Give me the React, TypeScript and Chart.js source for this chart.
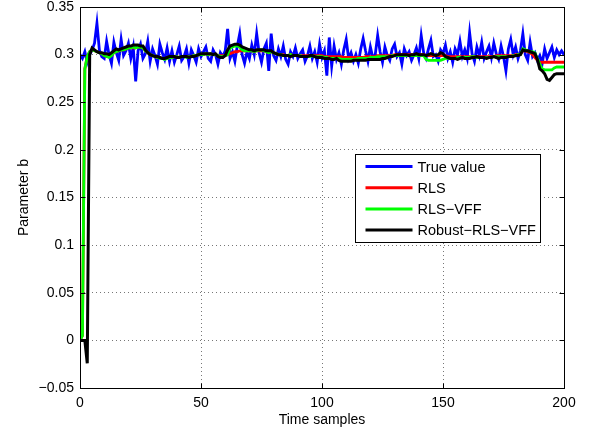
import React, { useEffect, useRef } from "react";
import { Chart, registerables } from "chart.js";

Chart.register(...registerables);

const SERIES_LABELS = ["True value", "RLS", "RLS\u2212VFF", "Robust\u2212RLS\u2212VFF"];
const SERIES_COLORS = ["#0000ff", "#ff0000", "#00ff00", "#000000"];
const X_TICKS = [0, 50, 100, 150, 200];
const Y_TICKS = [-0.05, 0, 0.05, 0.1, 0.15, 0.2, 0.25, 0.3, 0.35];

const trueValue = [
  0.300, 0.296, 0.303, 0.292, 0.300, 0.305, 0.312, 0.333, 0.305, 0.298,
  0.296, 0.314, 0.300, 0.291, 0.313, 0.302, 0.294, 0.316, 0.299, 0.304,
  0.312, 0.296, 0.308, 0.272, 0.304, 0.311, 0.296, 0.301, 0.314, 0.293,
  0.306, 0.299, 0.290, 0.311, 0.302, 0.295, 0.307, 0.293, 0.304, 0.292,
  0.300, 0.309, 0.294, 0.298, 0.306, 0.291, 0.305, 0.299, 0.292, 0.306,
  0.298, 0.303, 0.308, 0.296, 0.293, 0.305, 0.300, 0.290, 0.302, 0.298,
  0.304, 0.327, 0.296, 0.303, 0.293, 0.309, 0.322, 0.300, 0.291, 0.303,
  0.296, 0.310, 0.300, 0.322, 0.302, 0.292, 0.306, 0.312, 0.283, 0.322,
  0.299, 0.294, 0.306, 0.298, 0.309, 0.295, 0.290, 0.303, 0.298, 0.307,
  0.296, 0.301, 0.305, 0.293, 0.299, 0.309, 0.296, 0.303, 0.292, 0.311,
  0.297, 0.304, 0.278, 0.318, 0.288, 0.309, 0.295, 0.302, 0.290, 0.305,
  0.316, 0.296, 0.302, 0.293, 0.300, 0.291, 0.306, 0.317, 0.304, 0.293,
  0.308, 0.297, 0.300, 0.320, 0.303, 0.292, 0.308, 0.299, 0.294, 0.306,
  0.311, 0.298, 0.302, 0.290, 0.306, 0.299, 0.303, 0.294, 0.300, 0.307,
  0.296, 0.320, 0.302, 0.296, 0.306, 0.315, 0.298, 0.300, 0.293, 0.305,
  0.301, 0.310, 0.296, 0.303, 0.292, 0.306, 0.300, 0.314, 0.298, 0.305,
  0.296, 0.323, 0.301, 0.293, 0.308, 0.299, 0.313, 0.296, 0.303, 0.309,
  0.297, 0.312, 0.301, 0.295, 0.309, 0.298, 0.283, 0.306, 0.316, 0.300,
  0.308, 0.296, 0.304, 0.322, 0.300, 0.294, 0.313, 0.298, 0.302, 0.294,
  0.299, 0.291, 0.306, 0.296, 0.302, 0.308, 0.297, 0.305, 0.300, 0.304,
  0.300,
];

const rls = [
  0.000, 0.005, 0.285, 0.298, 0.303, 0.305, 0.304, 0.303, 0.302, 0.301,
  0.299, 0.298, 0.298, 0.299, 0.302, 0.303, 0.304, 0.305, 0.305, 0.306,
  0.307, 0.307, 0.307, 0.307, 0.308, 0.308, 0.307, 0.304, 0.302, 0.300,
  0.299, 0.298, 0.297, 0.297, 0.296, 0.296, 0.296, 0.297, 0.297, 0.298,
  0.298, 0.297, 0.298, 0.298, 0.298, 0.298, 0.298, 0.299, 0.299, 0.300,
  0.300, 0.300, 0.301, 0.300, 0.301, 0.300, 0.300, 0.299, 0.299, 0.299,
  0.299, 0.300, 0.301, 0.302, 0.303, 0.303, 0.304, 0.304, 0.304, 0.304,
  0.304, 0.304, 0.303, 0.304, 0.304, 0.304, 0.304, 0.303, 0.302, 0.303,
  0.302, 0.301, 0.300, 0.300, 0.300, 0.299, 0.299, 0.300, 0.299, 0.299,
  0.299, 0.299, 0.299, 0.299, 0.299, 0.299, 0.299, 0.299, 0.299, 0.299,
  0.299, 0.298, 0.298, 0.298, 0.298, 0.298, 0.298, 0.298, 0.298, 0.297,
  0.297, 0.297, 0.297, 0.297, 0.297, 0.297, 0.297, 0.297, 0.298, 0.298,
  0.298, 0.298, 0.298, 0.299, 0.299, 0.299, 0.299, 0.299, 0.299, 0.299,
  0.300, 0.300, 0.300, 0.300, 0.300, 0.300, 0.300, 0.300, 0.300, 0.300,
  0.300, 0.300, 0.300, 0.299, 0.299, 0.299, 0.299, 0.299, 0.299, 0.299,
  0.299, 0.299, 0.298, 0.298, 0.298, 0.298, 0.298, 0.298, 0.298, 0.298,
  0.298, 0.298, 0.298, 0.298, 0.298, 0.298, 0.298, 0.298, 0.298, 0.298,
  0.298, 0.298, 0.299, 0.299, 0.299, 0.299, 0.299, 0.299, 0.299, 0.299,
  0.300, 0.300, 0.300, 0.304, 0.304, 0.303, 0.302, 0.300, 0.297, 0.294,
  0.292, 0.292, 0.292, 0.292, 0.292, 0.292, 0.292, 0.292, 0.292, 0.292,
  0.292,
];

const rlsVff = [
  0.000, 0.005, 0.285, 0.298, 0.303, 0.305, 0.304, 0.303, 0.302, 0.301,
  0.299, 0.298, 0.297, 0.299, 0.302, 0.303, 0.304, 0.305, 0.305, 0.306,
  0.307, 0.307, 0.308, 0.307, 0.308, 0.308, 0.307, 0.304, 0.302, 0.300,
  0.299, 0.298, 0.297, 0.296, 0.296, 0.295, 0.296, 0.297, 0.297, 0.298,
  0.298, 0.297, 0.298, 0.298, 0.297, 0.298, 0.298, 0.299, 0.299, 0.300,
  0.300, 0.300, 0.301, 0.300, 0.301, 0.300, 0.300, 0.299, 0.298, 0.298,
  0.299, 0.300, 0.307, 0.308, 0.309, 0.309, 0.308, 0.305, 0.304, 0.304,
  0.304, 0.304, 0.303, 0.304, 0.305, 0.305, 0.304, 0.303, 0.302, 0.303,
  0.302, 0.301, 0.300, 0.300, 0.299, 0.299, 0.299, 0.300, 0.299, 0.299,
  0.299, 0.299, 0.298, 0.298, 0.298, 0.298, 0.299, 0.298, 0.298, 0.298,
  0.298, 0.297, 0.297, 0.296, 0.296, 0.296, 0.296, 0.296, 0.295, 0.295,
  0.295, 0.295, 0.295, 0.295, 0.295, 0.296, 0.296, 0.296, 0.296, 0.296,
  0.297, 0.297, 0.297, 0.298, 0.298, 0.298, 0.298, 0.298, 0.298, 0.299,
  0.299, 0.299, 0.299, 0.299, 0.299, 0.299, 0.299, 0.299, 0.299, 0.299,
  0.299, 0.299, 0.299, 0.295, 0.294, 0.294, 0.294, 0.294, 0.294, 0.294,
  0.295, 0.296, 0.296, 0.296, 0.296, 0.296, 0.297, 0.297, 0.297, 0.297,
  0.297, 0.297, 0.298, 0.298, 0.297, 0.297, 0.297, 0.297, 0.297, 0.297,
  0.297, 0.298, 0.298, 0.298, 0.298, 0.298, 0.298, 0.298, 0.298, 0.299,
  0.299, 0.300, 0.300, 0.306, 0.305, 0.304, 0.303, 0.303, 0.302, 0.296,
  0.290, 0.285, 0.284, 0.284, 0.284, 0.284, 0.286, 0.287, 0.287, 0.287,
  0.287,
];

const robustRlsVff = [
  0.000, 0.000, 0.000, -0.024, 0.300, 0.307, 0.305, 0.303, 0.302, 0.302,
  0.301, 0.301, 0.300, 0.302, 0.304, 0.306, 0.305, 0.306, 0.307, 0.308,
  0.309, 0.309, 0.310, 0.310, 0.310, 0.309, 0.309, 0.305, 0.302, 0.300,
  0.299, 0.298, 0.298, 0.297, 0.296, 0.296, 0.297, 0.298, 0.298, 0.298,
  0.297, 0.297, 0.298, 0.298, 0.298, 0.297, 0.298, 0.298, 0.299, 0.300,
  0.301, 0.301, 0.301, 0.301, 0.301, 0.300, 0.301, 0.298, 0.297, 0.297,
  0.299, 0.305, 0.309, 0.310, 0.311, 0.311, 0.310, 0.308, 0.307, 0.306,
  0.305, 0.305, 0.304, 0.305, 0.305, 0.305, 0.305, 0.304, 0.304, 0.304,
  0.302, 0.301, 0.300, 0.300, 0.299, 0.299, 0.299, 0.298, 0.299, 0.299,
  0.299, 0.298, 0.298, 0.298, 0.298, 0.299, 0.299, 0.298, 0.297, 0.297,
  0.297, 0.296, 0.296, 0.296, 0.295, 0.295, 0.296, 0.294, 0.293, 0.293,
  0.293, 0.293, 0.293, 0.294, 0.294, 0.294, 0.294, 0.294, 0.294, 0.295,
  0.295, 0.295, 0.295, 0.295, 0.295, 0.296, 0.296, 0.297, 0.298, 0.298,
  0.299, 0.300, 0.300, 0.300, 0.300, 0.300, 0.299, 0.300, 0.300, 0.301,
  0.300, 0.300, 0.300, 0.299, 0.300, 0.301, 0.300, 0.299, 0.300, 0.302,
  0.301, 0.298, 0.297, 0.296, 0.296, 0.296, 0.295, 0.296, 0.297, 0.296,
  0.296, 0.296, 0.297, 0.297, 0.298, 0.297, 0.297, 0.297, 0.296, 0.297,
  0.297, 0.298, 0.297, 0.296, 0.297, 0.297, 0.297, 0.298, 0.298, 0.298,
  0.299, 0.299, 0.300, 0.305, 0.304, 0.304, 0.303, 0.302, 0.301, 0.295,
  0.285, 0.283, 0.280, 0.274, 0.273, 0.276, 0.279, 0.280, 0.280, 0.280,
  0.280,
];

const SERIES = [trueValue, rls, rlsVff, robustRlsVff];
const WIDTHS = [2.8, 2.8, 2.8, 3];
const FONT = "'Liberation Sans', Arial, Helvetica, sans-serif";

function fmtY(v: number): string {
  const r = Math.round(v * 100) / 100;
  if (Math.abs(r) < 1e-9) return "0";
  const s = String(r);
  return r < 0 ? "\u2212" + s.slice(1) : s;
}

const boxPlugin = {
  id: "matlabBox",
  afterDatasetsDraw(chart: any) {
    const { ctx, chartArea: a, scales } = chart;
    ctx.save();
    ctx.strokeStyle = "#000";
    ctx.lineWidth = 1;
    const L = Math.round(a.left) + 0.5;
    const R = Math.round(a.right) + 0.5;
    const T = Math.round(a.top) + 0.5;
    const B = Math.round(a.bottom) + 0.5;
    ctx.strokeRect(L, T, R - L, B - T);
    const tl = 5;
    ctx.beginPath();
    for (const t of X_TICKS) {
      const x = Math.round(scales.x.getPixelForValue(t)) + 0.5;
      ctx.moveTo(x, B);
      ctx.lineTo(x, B - tl);
      ctx.moveTo(x, T);
      ctx.lineTo(x, T + tl);
    }
    for (const t of Y_TICKS) {
      const y = Math.round(scales.y.getPixelForValue(t)) + 0.5;
      ctx.moveTo(L, y);
      ctx.lineTo(L + tl, y);
      ctx.moveTo(R, y);
      ctx.lineTo(R - tl, y);
    }
    ctx.stroke();

    // legend
    const lx = Math.round(a.left + 275) + 0.5;
    const ly = Math.round(a.top + 147) + 0.5;
    const lw = 185;
    const lh = 88;
    ctx.fillStyle = "#fff";
    ctx.fillRect(lx, ly, lw, lh);
    ctx.strokeRect(lx, ly, lw, lh);
    ctx.font = "14.5px " + FONT;
    ctx.textBaseline = "middle";
    ctx.textAlign = "left";
    chart.data.datasets.forEach((ds: any, i: number) => {
      const yy = ly + 12 + i * 21.2;
      ctx.strokeStyle = ds.borderColor;
      ctx.lineWidth = 3;
      ctx.beginPath();
      ctx.moveTo(lx + 10, yy);
      ctx.lineTo(lx + 57, yy);
      ctx.stroke();
      ctx.fillStyle = "#000";
      ctx.fillText(ds.label, lx + 62, yy + 1);
    });
    ctx.restore();
  },
};

export default function App() {
  const ref = useRef<HTMLCanvasElement | null>(null);
  useEffect(() => {
    if (!ref.current) return;
    const chart = new Chart(ref.current, {
      type: "line",
      data: {
        datasets: SERIES.map((arr, i) => ({
          label: SERIES_LABELS[i],
          data: arr.map((v, k) => ({ x: k, y: v })),
          borderColor: SERIES_COLORS[i],
          backgroundColor: SERIES_COLORS[i],
          borderWidth: WIDTHS[i],
          pointRadius: 0,
          tension: 0,
          fill: false,
          order: SERIES.length - i,
        })),
      },
      options: {
        animation: false,
        responsive: false,
        devicePixelRatio: 1,
        layout: { padding: { top: 7, right: 26, left: 0, bottom: 0 } },
        plugins: { legend: { display: false }, tooltip: { enabled: false } },
        scales: {
          x: {
            type: "linear",
            min: 0,
            max: 200,
            afterBuildTicks: (s: any) => {
              s.ticks = X_TICKS.map((v) => ({ value: v }));
            },
            afterFit: (s: any) => {
              s.height = 46;
              s.paddingLeft = 0;
              s.paddingRight = 0;
            },
            ticks: {
              color: "#000",
              font: { family: FONT, size: 14 },
              padding: 7,
              maxRotation: 0,
            },
            grid: { color: "#777", drawTicks: false, lineWidth: 1 },
            border: { display: false, dash: [1, 3] },
            title: {
              display: true,
              text: "Time samples",
              color: "#000",
              font: { family: FONT, size: 14 },
              padding: { top: 0, bottom: 5 },
            },
          },
          y: {
            type: "linear",
            min: -0.05,
            max: 0.35,
            afterBuildTicks: (s: any) => {
              s.ticks = Y_TICKS.map((v) => ({ value: v }));
            },
            afterFit: (s: any) => {
              s.width = 80;
              s.paddingTop = 0;
              s.paddingBottom = 0;
            },
            ticks: {
              color: "#000",
              font: { family: FONT, size: 14 },
              padding: 6,
              callback: (v: any) => fmtY(Number(v)),
            },
            grid: { color: "#777", drawTicks: false, lineWidth: 1 },
            border: { display: false, dash: [1, 3] },
            title: {
              display: true,
              text: "Parameter b",
              color: "#000",
              font: { family: FONT, size: 14 },
              padding: { top: 16, bottom: 0 },
            },
          },
        },
      },
      plugins: [boxPlugin],
    } as any);
    return () => chart.destroy();
  }, []);
  return (
    <div style={{ position: "absolute", left: 0, top: 0, width: 590, height: 434, background: "#fff" }}>
      <canvas ref={ref} width={590} height={434} style={{ width: 590, height: 434 }} />
    </div>
  );
}
